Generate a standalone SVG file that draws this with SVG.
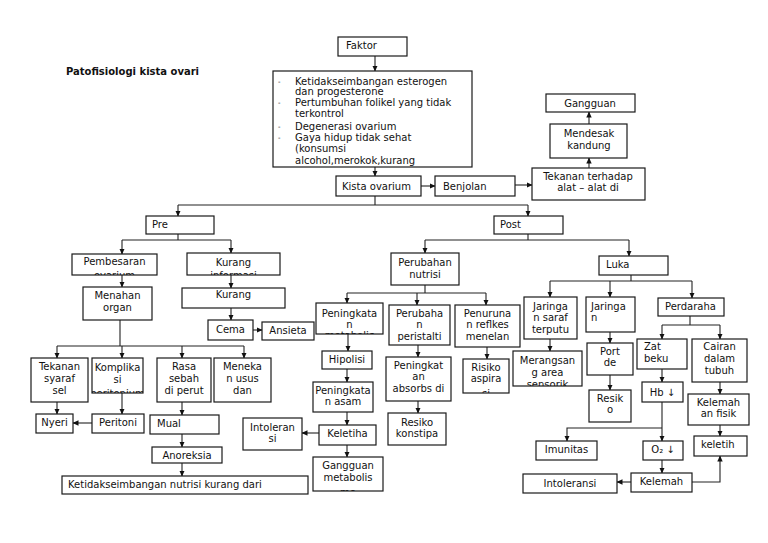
<svg xmlns="http://www.w3.org/2000/svg" width="768" height="543" viewBox="0 0 768 543">
<defs>
<style>
text{font-family:"DejaVu Sans","Liberation Sans",Verdana,sans-serif;font-size:10px;fill:#111}
.c{text-anchor:middle}
.t{font-weight:bold}
.b{fill:#fff;stroke:#1a1a1a;stroke-width:1.2}
#edges path{fill:none;stroke:#222;stroke-width:1.1}
#edges path.a{marker-end:url(#ah)}
.dot{font-size:7px}
</style>
<marker id="ah" markerWidth="6" markerHeight="6" refX="5.5" refY="3" orient="auto" markerUnits="userSpaceOnUse"><path d="M0,0.3 L6,3 L0,5.7 z" fill="#111"/></marker>
</defs>
<rect width="768" height="543" fill="#fff"/>
<text class="t" x="66" y="75">Patofisiologi kista ovari</text>

<g id="edges">
<path class="a" d="M375,56 V71"/>
<path class="a" d="M375,167 V176"/>
<path class="a" d="M421,186 H435"/>
<path class="a" d="M515,185 H532"/>
<path class="a" d="M589,168 V158"/>
<path class="a" d="M589,124 V112"/>
<path d="M375,196 V205 M178,205 H528"/>
<path class="a" d="M178,205 V216"/>
<path class="a" d="M528,205 V216"/>
<path d="M178,234 V240 M122,240 H231"/>
<path class="a" d="M122,240 V254"/>
<path class="a" d="M231,240 V253"/>
<path class="a" d="M122,275 V287"/>
<path class="a" d="M231,275 V288"/>
<path class="a" d="M231,308 V320"/>
<path class="a" d="M253,330 H262"/>
<path d="M120,320 V346 M57,346 H244"/>
<path class="a" d="M57,346 V358"/>
<path class="a" d="M122,346 V358"/>
<path class="a" d="M182,346 V358"/>
<path class="a" d="M244,346 V358"/>
<path class="a" d="M57,402 V414"/>
<path class="a" d="M122,393 V414"/>
<path class="a" d="M92,423 H73"/>
<path class="a" d="M182,402 V415"/>
<path class="a" d="M182,434 V447"/>
<path class="a" d="M182,463 V476"/>
<path d="M528,234 V240 M425,240 H629"/>
<path class="a" d="M425,240 V253"/>
<path class="a" d="M629,240 V256"/>
<path d="M425,285 V293 M347,293 H486"/>
<path class="a" d="M347,293 V303"/>
<path class="a" d="M417,293 V305"/>
<path class="a" d="M486,293 V305"/>
<path class="a" d="M348,334 V351"/>
<path class="a" d="M347,369 V382"/>
<path class="a" d="M347,412 V425"/>
<path class="a" d="M319,433 H302"/>
<path class="a" d="M347,445 V457"/>
<path class="a" d="M418,345 V357"/>
<path class="a" d="M418,401 V413"/>
<path class="a" d="M487,347 V359"/>
<path d="M631,275 V281 M550,281 H692"/>
<path class="a" d="M550,281 V297"/>
<path class="a" d="M610,281 V297"/>
<path class="a" d="M692,281 V298"/>
<path class="a" d="M550,339 V351"/>
<path class="a" d="M610,332 V343"/>
<path class="a" d="M610,375 V390"/>
<path d="M690,316 V325 M662,325 H720"/>
<path class="a" d="M662,325 V339"/>
<path class="a" d="M720,325 V339"/>
<path class="a" d="M662,369 V382"/>
<path class="a" d="M662,402 V441"/>
<path class="a" d="M662,428 H567 V441"/>
<path class="a" d="M662,460 V473"/>
<path class="a" d="M631,482 H617"/>
<path class="a" d="M692,482 H720 V456"/>
<path class="a" d="M720,382 V394"/>
<path class="a" d="M720,425 V436"/>
</g>

<g id="n-faktor"><rect class="b" x="338" y="37" width="69" height="19"/><text x="346" y="49">Faktor</text></g>
<g id="n-penyebab"><rect class="b" x="273" y="71" width="199" height="96"/>
<svg x="273" y="71" width="199" height="96" viewBox="273 71 199 96">
<text class="dot" x="278" y="84">-</text><text x="295" y="85">Ketidakseimbangan esterogen</text>
<text x="295" y="95">dan progesterone</text>
<text class="dot" x="278" y="105">-</text><text x="295" y="106">Pertumbuhan folikel yang tidak</text>
<text x="295" y="117">terkontrol</text>
<text class="dot" x="278" y="129">-</text><text x="295" y="130">Degenerasi ovarium</text>
<text class="dot" x="278" y="140">-</text><text x="295" y="141">Gaya hidup tidak sehat</text>
<text x="295" y="152">(konsumsi</text>
<text x="295" y="164">alcohol,merokok,kurang</text>
</svg></g>
<g id="n-kista"><rect class="b" x="336" y="176" width="85" height="20"/><text x="342" y="190">Kista ovarium</text></g>
<g id="n-benjolan"><rect class="b" x="435" y="176" width="80" height="20"/><text x="443" y="190">Benjolan</text></g>
<g id="n-tekanan-alat"><rect class="b" x="532" y="168" width="113" height="32"/><text class="c" x="588" y="180">Tekanan terhadap</text><text class="c" x="588" y="191">alat – alat di</text></g>
<g id="n-mendesak"><rect class="b" x="550" y="124" width="77" height="34"/><text class="c" x="589" y="137">Mendesak</text><text class="c" x="589" y="149">kandung</text></g>
<g id="n-gangguan"><rect class="b" x="546" y="94" width="89" height="18"/><text class="c" x="590" y="107">Gangguan</text></g>

<g id="n-pre"><rect class="b" x="146" y="216" width="68" height="18"/><text x="152" y="228">Pre</text></g>
<g id="n-post"><rect class="b" x="494" y="216" width="69" height="18"/><text x="500" y="228">Post</text></g>

<g id="n-pembesaran"><rect class="b" x="72" y="254" width="85" height="21"/>
<svg x="72" y="254" width="85" height="21" viewBox="72 254 85 21"><text class="c" x="114.5" y="265">Pembesaran</text><text class="c" x="114.5" y="279">ovarium</text></svg></g>
<g id="n-kurang-info"><rect class="b" x="187" y="253" width="93" height="22"/>
<svg x="187" y="253" width="93" height="22" viewBox="187 253 93 22"><text class="c" x="233.5" y="266">Kurang</text><text class="c" x="233.5" y="279">informasi</text></svg></g>
<g id="n-menahan"><rect class="b" x="83" y="287" width="69" height="33"/><text class="c" x="117.5" y="299">Menahan</text><text class="c" x="117.5" y="311">organ</text></g>
<g id="n-kurang"><rect class="b" x="182" y="288" width="103" height="20"/><text class="c" x="233.5" y="298">Kurang</text></g>
<g id="n-cema"><rect class="b" x="208" y="320" width="45" height="20"/><text class="c" x="230.5" y="333">Cema</text></g>
<g id="n-ansieta"><rect class="b" x="262" y="322" width="52" height="18"/><text class="c" x="288" y="334">Ansieta</text></g>

<g id="n-tekanan-syaraf"><rect class="b" x="31" y="358" width="57" height="44"/><text class="c" x="59.5" y="370">Tekanan</text><text class="c" x="59.5" y="382">syaraf</text><text class="c" x="59.5" y="394">sel</text></g>
<g id="n-komplikasi"><rect class="b" x="92" y="358" width="51" height="35"/>
<svg x="92" y="358" width="51" height="35" viewBox="92 358 51 35"><text class="c" x="117.5" y="371">Komplika</text><text class="c" x="117.5" y="383">si</text><text class="c" x="117.5" y="397">peritonium</text></svg></g>
<g id="n-rasa"><rect class="b" x="157" y="358" width="54" height="44"/><text class="c" x="184" y="370">Rasa</text><text class="c" x="184" y="382">sebah</text><text class="c" x="184" y="394">di perut</text></g>
<g id="n-menekan"><rect class="b" x="214" y="358" width="57" height="44"/><text class="c" x="242.5" y="370">Meneka</text><text class="c" x="242.5" y="382">n usus</text><text class="c" x="242.5" y="394">dan</text></g>
<g id="n-nyeri"><rect class="b" x="36" y="414" width="37" height="19"/><text class="c" x="54.5" y="426">Nyeri</text></g>
<g id="n-peritoni"><rect class="b" x="92" y="414" width="52" height="19"/><text class="c" x="118" y="426">Peritoni</text></g>
<g id="n-mual"><rect class="b" x="150" y="415" width="69" height="19"/><text x="157" y="427">Mual</text></g>
<g id="n-anoreksia"><rect class="b" x="152" y="447" width="70" height="16"/><text class="c" x="187" y="459">Anoreksia</text></g>
<g id="n-ketidak"><rect class="b" x="62" y="476" width="246" height="18"/><text x="68" y="488">Ketidakseimbangan nutrisi kurang dari</text></g>

<g id="n-perubahan-nutrisi"><rect class="b" x="391" y="253" width="68" height="32"/><text class="c" x="425" y="266">Perubahan</text><text class="c" x="425" y="278">nutrisi</text></g>
<g id="n-peningkatan-met"><rect class="b" x="316" y="303" width="67" height="31"/>
<svg x="316" y="303" width="67" height="31" viewBox="316 303 67 31"><text class="c" x="349.5" y="317">Peningkata</text><text class="c" x="349.5" y="328">n</text><text class="c" x="349.5" y="338.5">metabolic</text></svg></g>
<g id="n-perubahan-per"><rect class="b" x="389" y="305" width="61" height="40"/><text class="c" x="419.5" y="317">Perubaha</text><text class="c" x="419.5" y="328">n</text><text class="c" x="419.5" y="340">peristalti</text></g>
<g id="n-penurunan"><rect class="b" x="455" y="305" width="65" height="42"/><text class="c" x="487.5" y="317">Penuruna</text><text class="c" x="487.5" y="328">n reflkes</text><text class="c" x="487.5" y="340">menelan</text></g>
<g id="n-hipolisi"><rect class="b" x="322" y="351" width="50" height="18"/><text class="c" x="347" y="363">Hipolisi</text></g>
<g id="n-peningkatan-asam"><rect class="b" x="313" y="382" width="60" height="30"/><text class="c" x="343" y="394">Peningkata</text><text class="c" x="343" y="405">n asam</text></g>
<g id="n-keletihan"><rect class="b" x="319" y="425" width="57" height="20"/><text class="c" x="347.5" y="437">Keletiha</text></g>
<g id="n-intoleran-si"><rect class="b" x="243" y="418" width="59" height="32"/><text class="c" x="272.5" y="431">Intoleran</text><text class="c" x="272.5" y="442">si</text></g>
<g id="n-gangguan-met"><rect class="b" x="313" y="457" width="70" height="34"/>
<svg x="313" y="457" width="70" height="34" viewBox="313 457 70 34"><text class="c" x="348" y="469">Gangguan</text><text class="c" x="348" y="481">metabolis</text><text class="c" x="348" y="496">me</text></svg></g>
<g id="n-peningkatan-abs"><rect class="b" x="386" y="357" width="65" height="44"/><text class="c" x="418.5" y="369">Peningkat</text><text class="c" x="418.5" y="380">an</text><text class="c" x="418.5" y="392">absorbs di</text></g>
<g id="n-resiko-kons"><rect class="b" x="388" y="413" width="58" height="32"/><text class="c" x="417" y="426">Resiko</text><text class="c" x="417" y="437">konstipa</text></g>
<g id="n-risiko-asp"><rect class="b" x="463" y="359" width="46" height="34"/>
<svg x="463" y="359" width="46" height="34" viewBox="463 359 46 34"><text class="c" x="486" y="371">Risiko</text><text class="c" x="486" y="382">aspira</text><text class="c" x="486" y="397">si</text></svg></g>

<g id="n-luka"><rect class="b" x="599" y="256" width="69" height="19"/><text x="606" y="268">Luka</text></g>
<g id="n-jaringan-saraf"><rect class="b" x="524" y="297" width="53" height="42"/><text class="c" x="550.5" y="310">Jaringa</text><text class="c" x="550.5" y="321">n saraf</text><text class="c" x="550.5" y="333">terputu</text></g>
<g id="n-jaringan"><rect class="b" x="586" y="297" width="49" height="35"/><text x="591" y="310">Jaringa</text><text x="591" y="321">n</text></g>
<g id="n-perdarahan"><rect class="b" x="658" y="298" width="66" height="18"/><text x="665" y="310">Perdaraha</text></g>
<g id="n-merangsang"><rect class="b" x="513" y="351" width="69" height="35"/>
<svg x="513" y="351" width="69" height="35" viewBox="513 351 69 35"><text class="c" x="547.5" y="364">Merangsan</text><text class="c" x="547.5" y="376">g area</text><text class="c" x="547.5" y="388">sensorik</text></svg></g>
<g id="n-port"><rect class="b" x="587" y="343" width="46" height="32"/><text class="c" x="610" y="355">Port</text><text class="c" x="610" y="366">de</text></g>
<g id="n-resiko"><rect class="b" x="589" y="390" width="42" height="32"/><text class="c" x="610" y="402">Resik</text><text class="c" x="610" y="413">o</text></g>
<g id="n-zat"><rect class="b" x="637" y="339" width="50" height="30"/><text x="644" y="350">Zat</text><text x="644" y="362">beku</text></g>
<g id="n-cairan"><rect class="b" x="692" y="339" width="55" height="43"/><text class="c" x="719.5" y="350">Cairan</text><text class="c" x="719.5" y="362">dalam</text><text class="c" x="719.5" y="374">tubuh</text></g>
<g id="n-hb"><rect class="b" x="642" y="382" width="41" height="20"/><text class="c" x="662.5" y="396">Hb ↓</text></g>
<g id="n-imunitas"><rect class="b" x="536" y="441" width="61" height="19"/><text class="c" x="566.5" y="453">Imunitas</text></g>
<g id="n-o2"><rect class="b" x="643" y="441" width="40" height="19"/><text class="c" x="663" y="453">O₂ ↓</text></g>
<g id="n-kelemahan"><rect class="b" x="631" y="473" width="61" height="19"/><text class="c" x="661.5" y="485">Kelemah</text></g>
<g id="n-intoleransi"><rect class="b" x="523" y="474" width="94" height="19"/><text class="c" x="570" y="487">Intoleransi</text></g>
<g id="n-keletih"><rect class="b" x="694" y="436" width="53" height="20"/><text x="701" y="448">keletih</text></g>
<g id="n-kelemahan-fisik"><rect class="b" x="688" y="394" width="61" height="31"/><text class="c" x="718.5" y="406">Kelemah</text><text class="c" x="718.5" y="417">an fisik</text></g>
</svg>
